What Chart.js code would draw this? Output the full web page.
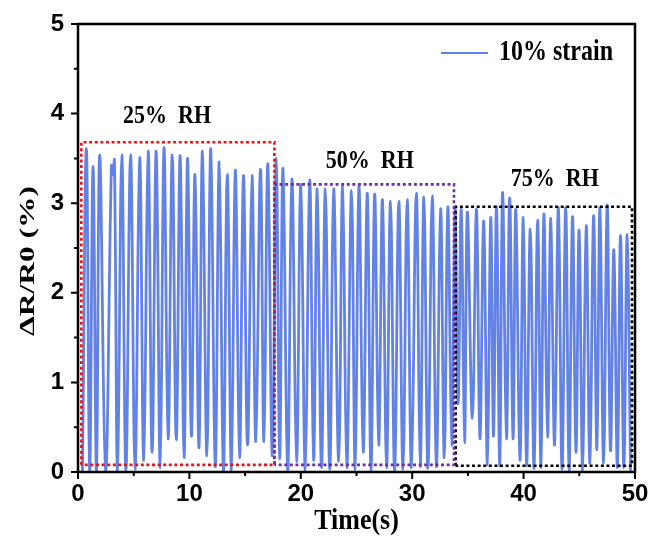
<!DOCTYPE html>
<html>
<head>
<meta charset="utf-8">
<script src="https://cdn.jsdelivr.net/npm/chart.js@4.4.0/dist/chart.umd.min.js"></script>
<style>
  html, body { margin: 0; padding: 0; background: #fff; }
</style>
</head>
<body>
<canvas id="chart" width="649" height="539"></canvas>
<script>
// peaks of each loading cycle (time in s, ΔR/R0 in %)
const peakTimes = [0.75, 1.35, 1.95, 3.0, 3.27, 3.93, 4.72, 5.54, 6.3, 7.02, 7.72, 8.46, 9.17, 9.83, 10.5, 11.17, 11.92, 12.68, 13.4, 14.12, 14.85, 15.62, 16.38, 17.04,
  17.8, 18.4, 19.2, 20.0, 20.8, 21.47, 22.2, 22.95, 23.75, 24.55, 25.22, 25.97, 26.63, 27.33, 28.05, 28.8, 29.55, 30.37, 31.05, 31.8, 32.55, 33.2,
  33.85, 34.4, 34.95, 35.77, 36.42, 37.05, 37.57, 38.11, 38.75, 39.3, 39.97, 40.6, 41.26, 41.82, 42.44, 43.12, 43.78, 44.39, 44.98, 45.62, 46.28, 46.85, 47.5, 48.1, 48.7, 49.3];
const peakValues = [3.61, 3.41, 3.54, 3.42, 3.48, 3.54, 3.54, 3.51, 3.58, 3.58, 3.62, 3.54, 3.53, 3.50, 3.32, 3.58, 3.61, 3.46, 3.32, 3.37, 3.31, 3.31, 3.38, 3.44,
  3.50, 3.39, 3.27, 3.21, 3.26, 3.16, 3.16, 3.16, 3.19, 3.14, 3.19, 3.11, 3.10, 3.04, 3.02, 3.02, 3.04, 3.11, 3.07, 3.08, 2.94, 2.96,
  2.93, 2.93, 2.90, 2.93, 2.80, 2.84, 2.96, 3.12, 3.06, 2.93, 2.84, 2.71, 2.81, 2.88, 2.83, 2.95, 2.95, 2.85, 2.70, 2.75, 2.86, 2.95, 2.98, 2.48, 2.64, 2.65];

// valleys: start point, one between each pair of peaks, end point
const troughTimes = [0.4, 1.05, 1.66, 2.48, 3.13, 3.55, 4.3, 5.12, 5.9, 6.65, 7.38, 8.09, 8.82, 9.52, 10.18, 10.86, 11.57, 12.32, 13.05, 13.77, 14.5,
  15.22, 15.96, 16.69, 17.44, 18.1, 18.82, 19.62, 20.4, 21.15, 21.86, 22.6, 23.4, 24.13, 24.88, 25.6, 26.3, 26.99, 27.7, 28.42, 29.17,
  29.93, 30.72, 31.41, 32.17, 32.88, 33.55, 34.12, 34.7, 35.4, 36.08, 36.75, 37.3, 37.86, 38.46, 39.05, 39.67, 40.27, 40.94, 41.56, 42.15,
  42.78, 43.45, 44.08, 44.7, 45.3, 45.95, 46.58, 47.18, 47.8, 48.42, 49.0, 49.6];
const troughValues = [0.0, 0.0, 0.0, 0.0, 3.32, 0.0, 0.02, 0.03, 0.13, 0.22, 0.05, 0.37, 0.36, 0.16, 0.4, 0.27, 0.18, 0.06, 0.01, 0.02, 0.16,
  0.3, 0.34, 0.34, 0.18, 0.15, 0.0, 0.12, 0.02, 0.13, 0.05, 0.03, 0.12, 0.05, 0.03, 0.22, 0.02, 0.3, 0.05, 0.02, 0.03,
  0.05, 0.06, 0.04, 0.06, 0.16, 0.3, 0.76, 0.33, 0.6, 0.37, 0.08, 0.4, 0.07, 0.37, 0.37, 0.13, 0.07, 0.04, 0.05, 0.39,
  0.3, 0.03, 0.02, 0.22, 0.02, 0.1, 0.25, 0.1, 0.24, 0.05, 0.05, 0.0];

// dotted humidity windows [x0, x1], [y0, y1]
const redBoxX = [0.3, 17.63], redBoxY = [0.08, 3.68];
const purpleBoxX = [17.63, 33.75], purpleBoxY = [0.08, 3.21];
const blackBoxX = [33.9, 49.73], blackBoxY = [0.07, 2.96];

const rhLabels = ['25%  RH', '50%  RH', '75%  RH'];
const rhLabelX = [8.0, 26.2, 42.8];
const rhLabelY = [3.97, 3.46, 3.26];

const xTicks = [0, 10, 20, 30, 40, 50];
const yTicks = [0, 1, 2, 3, 4, 5];

const signal = [];
for (let i = 0; i < peakTimes.length; i++) {
  signal.push({ x: troughTimes[i], y: troughValues[i] });
  signal.push({ x: peakTimes[i], y: peakValues[i] });
}
signal.push({ x: troughTimes[troughTimes.length - 1], y: troughValues[troughValues.length - 1] });

function rect(xs, ys) {
  return [
    { x: xs[0], y: ys[0] }, { x: xs[0], y: ys[1] }, { x: xs[1], y: ys[1] },
    { x: xs[1], y: ys[0] }, { x: xs[0], y: ys[0] }
  ];
}

function boxSet(xs, ys, color) {
  return {
    data: rect(xs, ys), borderColor: color, borderWidth: 2.6, borderDash: [3, 2.6],
    pointRadius: 0, tension: 0, fill: false, order: 0
  };
}

const serif = "'Liberation Serif', 'Times New Roman', serif";

function drawText(ctx, text, x, y, font, sx, sy, rot, align) {
  ctx.save();
  ctx.translate(x, y);
  if (rot) ctx.rotate(rot);
  ctx.scale(sx, sy);
  ctx.font = font;
  ctx.fillStyle = '#000';
  ctx.textAlign = align || 'center';
  ctx.textBaseline = 'middle';
  ctx.fillText(text, 0, 0);
  ctx.restore();
}

const decor = {
  id: 'decor',
  afterDatasetsDraw(chart) {
    const ctx = chart.ctx, a = chart.chartArea;
    const xs = chart.scales.x, ys = chart.scales.y;
    ctx.save();
    ctx.strokeStyle = '#000';
    ctx.lineWidth = 2.5;
    ctx.strokeRect(a.left, a.top, a.right - a.left, a.bottom - a.top);

    // tick marks, majors and minors outward
    ctx.lineWidth = 2;
    ctx.beginPath();
    for (let v = 0; v <= 50; v += 5) {
      const px = xs.getPixelForValue(v);
      const len = v % 10 === 0 ? 7 : 4;
      ctx.moveTo(px, a.bottom);
      ctx.lineTo(px, a.bottom + len);
    }
    for (let v = 0; v <= 5; v += 0.5) {
      const py = ys.getPixelForValue(v);
      const len = Number.isInteger(v) ? 7 : 4;
      ctx.moveTo(a.left, py);
      ctx.lineTo(a.left - len, py);
    }
    ctx.stroke();

    // humidity labels
    for (let i = 0; i < rhLabels.length; i++) {
      drawText(ctx, rhLabels[i], xs.getPixelForValue(rhLabelX[i]), ys.getPixelForValue(rhLabelY[i]),
        'bold 22px ' + serif, 1, 1.1);
    }

    // legend
    ctx.strokeStyle = 'rgb(96,128,228)';
    ctx.lineWidth = 2;
    ctx.beginPath();
    ctx.moveTo(441, 53);
    ctx.lineTo(488, 53);
    ctx.stroke();
    drawText(ctx, '10% strain', 499, 52, 'bold 24px ' + serif, 1, 1.25, 0, 'left');

    // axis titles
    drawText(ctx, 'ΔR/R0 (%)', 29, 261, 'bold 21px ' + serif, 1.5, 1, -Math.PI / 2);
    drawText(ctx, 'Time(s)', (a.left + a.right) / 2, 521, 'bold 26px ' + serif, 1, 1.15);
    ctx.restore();
  }
};

const tickFont = { family: "'Liberation Sans', Arial, sans-serif", size: 24, weight: 'bold' };

new Chart(document.getElementById('chart'), {
  type: 'line',
  data: {
    datasets: [
      {
        data: signal, borderColor: 'rgb(98,130,230)', borderWidth: 2.8,
        pointRadius: 0, tension: 0.4, fill: false, order: 1
      },
      boxSet(purpleBoxX, purpleBoxY, '#7030a0'),
      boxSet(blackBoxX, blackBoxY, '#000000'),
      boxSet(redBoxX, redBoxY, '#e8141c')
    ]
  },
  options: {
    responsive: false,
    animation: false,
    devicePixelRatio: 1,
    layout: { padding: { top: 24, right: 14, left: 0, bottom: 0 } },
    plugins: { legend: { display: false }, tooltip: { enabled: false } },
    scales: {
      x: {
        type: 'linear', min: 0, max: 50,
        afterBuildTicks(s) { s.ticks = xTicks.map(v => ({ value: v })); },
        afterFit(s) { s.height = 67; s.paddingLeft = 0; s.paddingRight = 0; },
        grid: { display: false, drawTicks: false },
        border: { display: false },
        ticks: { font: tickFont, color: '#000', padding: 8, maxRotation: 0, autoSkip: false }
      },
      y: {
        type: 'linear', min: 0, max: 5,
        afterBuildTicks(s) { s.ticks = yTicks.map(v => ({ value: v })); },
        afterFit(s) { s.width = 78; s.paddingTop = 0; s.paddingBottom = 0; },
        grid: { display: false, drawTicks: false },
        border: { display: false },
        ticks: { font: tickFont, color: '#000', padding: 14, autoSkip: false }
      }
    }
  },
  plugins: [decor]
});
</script>
</body>
</html>
